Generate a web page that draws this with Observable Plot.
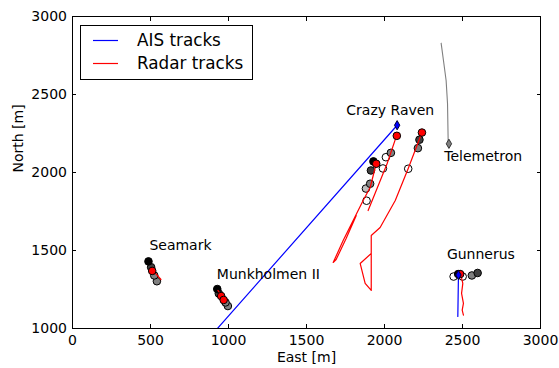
<!DOCTYPE html>
<html><head><meta charset="utf-8">
<script src="https://cdn.jsdelivr.net/npm/d3@7"></script>
<script src="https://cdn.jsdelivr.net/npm/@observablehq/plot@0.6"></script>
<style>
html,body{margin:0;padding:0;background:#fff;}
#wrap{position:relative;width:559px;height:368px;font-family:"DejaVu Sans",sans-serif;}
#legend{position:absolute;left:80px;top:25px;width:173px;height:55px;border:1px solid #000;background:#fff;box-sizing:border-box;}
#legend svg{position:absolute;left:0;top:0;}
#legend .lab{position:absolute;left:56px;font-size:16.8px;line-height:21px;white-space:nowrap;color:#000;}
</style></head>
<body><div id="wrap"></div>
<script>
// AIS tracks (metres)
const aisTrackId = ["Crazy Raven", "Crazy Raven", "Gunnerus", "Gunnerus"];
const aisX = [929, 2081, 2470, 2474];
const aisY = [1000, 2303, 1077, 1340];
// AIS end positions
const aisEndX = [2081, 2474];
const aisEndY = [2303, 1343];

// Radar tracks
const radarTrackId = [
  "r1","r1","r1","r1",
  "r2","r2","r2","r2","r2","r2","r2","r2","r2",
  "r3","r3","r3","r3","r3","r3","r3","r3","r3",
  "r4","r4",
  "r5","r5",
  "r6","r6","r6","r6","r6","r6","r6"
];
const radarX = [
  2077, 2017, 1947, 1895,
  1947, 1908, 1863, 1799, 1735, 1671, 1690, 1754, 1819,
  2240, 2152, 2069, 1972, 1915, 1915, 1876, 1844, 1915,
  504, 567,
  932, 979,
  2485, 2490, 2502, 2494, 2506, 2498, 2506
];
const radarY = [
  2235, 2058, 1885, 1756,
  2056, 1904, 1821, 1692, 1564, 1423, 1442, 1577, 1724,
  2256, 2026, 1821, 1647, 1596, 1244, 1289, 1417, 1481,
  1385, 1314,
  1244, 1180,
  1349, 1340, 1289, 1225, 1161, 1118, 1086
];
// Radar detections (red dots)
const radarDotX = [1947, 2079, 2240, 511, 953, 969, 2485];
const radarDotY = [2056, 2235, 2256, 1369, 1208, 1183, 1349];

// Ground-truth positions, shaded by time step (0 = oldest, 4 = newest)
const truthX = [1885, 1881, 1908, 1913, 1929, 1990, 2009, 2041, 2152, 2214, 2224,
                541, 524, 504, 487,
                996, 981, 938, 928,
                2443, 2501, 2560, 2597, 2472];
const truthY = [1819, 1897, 1928, 2013, 2071, 2026, 2098, 2126, 2024, 2156, 2210,
                1303, 1340, 1393, 1430,
                1144, 1167, 1224, 1253,
                1333, 1333, 1340, 1356, 1349];
const truthStep = [0, 1, 2, 3, 4, 0, 0, 2, 0, 2, 3,
                   2, 2, 3, 4,
                   2, 2, 3, 4,
                   0, 0, 2, 3, 4];

// Telemetron track
const telX = [2363, 2378, 2395, 2404, 2408, 2413];
const telY = [2829, 2718, 2590, 2442, 2205, 2184];

// Vessel labels
const vesselNames = ["Crazy Raven", "Telemetron", "Seamark", "Munkholmen II", "Gunnerus"];
const vesselLabelX = [1755, 2383, 493, 925, 2400];
const vesselLabelY = [2395, 2100, 1532, 1345, 1475];

const xTicks = [0, 500, 1000, 1500, 2000, 2500, 3000];
const yTicks = [1000, 1500, 2000, 2500, 3000];

const idx = n => d3.range(n);
const ais = idx(aisX.length).map(i => ({id: aisTrackId[i], x: aisX[i], y: aisY[i]}));
const radar = idx(radarX.length).map(i => ({id: radarTrackId[i], x: radarX[i], y: radarY[i]}));
const tel = idx(telX.length).map(i => ({x: telX[i], y: telY[i]}));
const truth = idx(truthX.length).map(i => ({x: truthX[i], y: truthY[i], s: truthStep[i]}));
const rdots = idx(radarDotX.length).map(i => ({x: radarDotX[i], y: radarDotY[i]}));
const aisEnd = idx(aisEndX.length).map(i => ({x: aisEndX[i], y: aisEndY[i]}));
const labels = idx(vesselNames.length).map(i => ({t: vesselNames[i], x: vesselLabelX[i], y: vesselLabelY[i]}));

const chart = Plot.plot({
  width: 559, height: 368,
  marginLeft: 72, marginRight: 19, marginTop: 16, marginBottom: 40,
  style: {fontFamily: "DejaVu Sans, sans-serif", fontSize: "14px", background: "white", color: "black"},
  x: {domain: [0, 3000], ticks: xTicks},
  y: {domain: [1000, 3000], ticks: yTicks},
  color: {type: "linear", domain: [0, 4], range: ["#ffffff", "#000000"]},
  marks: [
    Plot.line(tel, {x: "x", y: "y", stroke: "#7f7f7f", strokeWidth: 1.1, clip: true}),
    Plot.dot(truth, {x: "x", y: "y", fill: "s", stroke: "black", strokeWidth: 1, r: 3.8}),
    Plot.line(ais, {x: "x", y: "y", z: "id", stroke: "#0000ff", strokeWidth: 1.2, clip: true}),
    Plot.line(radar, {x: "x", y: "y", z: "id", stroke: "#ff0000", strokeWidth: 1.2, clip: true}),
    Plot.dot(rdots, {x: "x", y: "y", fill: "#ff0000", stroke: "black", strokeWidth: 1, r: 3.8}),
    Plot.dot(aisEnd, {x: "x", y: "y", symbol: "diamond", fill: "#0000ff", stroke: "#000033", strokeWidth: 1, r: 2.8}),
    Plot.dot(tel.slice(-1), {x: "x", y: "y", symbol: "diamond", fill: "#7f7f7f", stroke: "#333", strokeWidth: 1, r: 2.8}),
    Plot.text(labels, {x: "x", y: "y", text: "t", textAnchor: "start", fontSize: 14, fill: "black"}),
    Plot.frame({stroke: "black"}),
    Plot.axisX({anchor: "bottom", ticks: xTicks, tickSize: -4, tickPadding: 11, label: null, tickFormat: d => String(d)}),
    Plot.axisX({anchor: "top", ticks: xTicks, tickSize: -4, label: null, tickFormat: () => ""}),
    Plot.axisY({anchor: "left", ticks: yTicks, tickSize: -4, tickPadding: 9.5, label: null, tickFormat: d => String(d)}),
    Plot.axisY({anchor: "right", ticks: yTicks, tickSize: -4, label: null, tickFormat: () => ""}),
    Plot.text(["East [m]"], {frameAnchor: "bottom", dy: 33, fontSize: 14, fill: "black"}),
    Plot.text(["North [m]"], {frameAnchor: "left", dx: -54, rotate: -90, fontSize: 14, fill: "black"})
  ]
});
const wrap = document.getElementById("wrap");
wrap.appendChild(chart);

const legendItems = ["AIS tracks", "Radar tracks"];
const legendColors = ["#0000ff", "#ff0000"];
const lg = document.createElement("div");
lg.id = "legend";
const ns = "http://www.w3.org/2000/svg";
const sv = document.createElementNS(ns, "svg");
sv.setAttribute("width", "171");
sv.setAttribute("height", "53");
legendItems.forEach((name, i) => {
  const cy = 14.5 + i * 23;
  const ln = document.createElementNS(ns, "line");
  ln.setAttribute("x1", "12"); ln.setAttribute("x2", "37");
  ln.setAttribute("y1", cy); ln.setAttribute("y2", cy);
  ln.setAttribute("stroke", legendColors[i]);
  ln.setAttribute("stroke-width", "1.2");
  sv.appendChild(ln);
  const lb = document.createElement("div");
  lb.className = "lab";
  lb.style.top = (cy - 10.5) + "px";
  lb.textContent = name;
  lg.appendChild(lb);
});
lg.appendChild(sv);
wrap.appendChild(lg);
</script>
</body></html>
